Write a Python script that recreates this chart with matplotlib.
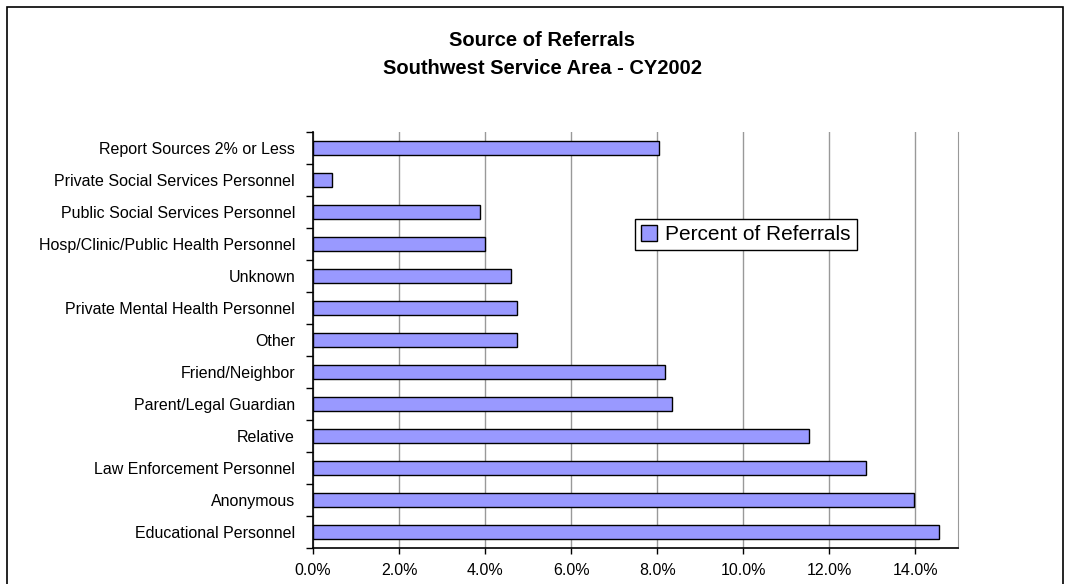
import matplotlib.pyplot as plt
from matplotlib.patches import Rectangle
from matplotlib.ticker import FixedLocator, FuncFormatter

# --- data (bottom to top) ---
sources = [
    'Educational Personnel',
    'Anonymous',
    'Law Enforcement Personnel',
    'Relative',
    'Parent/Legal Guardian',
    'Friend/Neighbor',
    'Other',
    'Private Mental Health Personnel',
    'Unknown',
    'Hosp/Clinic/Public Health Personnel',
    'Public Social Services Personnel',
    'Private Social Services Personnel',
    'Report Sources 2% or Less',
]
percent = [14.56, 13.97, 12.86, 11.52, 8.35, 8.18, 4.74, 4.74, 4.59, 3.99, 3.87, 0.43, 8.04]

plt.rcParams['font.family'] = ['Liberation Sans', 'DejaVu Sans']

fig = plt.figure(figsize=(10.67, 5.84), dpi=100)
ax = fig.add_axes([0.2935, 0.0616, 0.6045, 0.7124])

# outer chart border
fig.patches.append(Rectangle((7 / 1067, -0.05), 1056 / 1067, 1.05 - 7 / 584,
                             transform=fig.transFigure, fill=False,
                             edgecolor='black', linewidth=1.2))

ypos = list(range(len(sources)))
ax.barh(ypos, percent, height=0.42, color='#9999FF', edgecolor='black',
        linewidth=1.0, label='Percent of Referrals', zorder=3)

ax.set_xlim(0, 15)
ax.set_ylim(-0.5, len(sources) - 0.5)

# x axis
ax.xaxis.set_major_locator(FixedLocator([0, 2, 4, 6, 8, 10, 12, 14]))
ax.xaxis.set_major_formatter(FuncFormatter(lambda v, p: f'{v:.1f}%'))
ax.tick_params(axis='x', direction='out', length=4, width=1, color='black',
               labelsize=11.5, pad=7)
ax.grid(True, axis='x', color='#999999', linewidth=1, zorder=0)

# y axis: labels at centres, ticks at category boundaries
ax.set_yticks(ypos)
ax.set_yticklabels(sources)
ax.set_yticks([i - 0.5 for i in range(len(sources) + 1)], minor=True)
ax.tick_params(axis='y', which='major', length=0, labelsize=11.5, pad=13)
ax.tick_params(axis='y', which='minor', direction='out', length=5, width=1)

ax.spines['top'].set_visible(False)
ax.spines['right'].set_color('#999999')
ax.spines['left'].set_linewidth(1.2)
ax.spines['bottom'].set_linewidth(1.2)

leg = ax.legend(loc='upper left', bbox_to_anchor=(0.499, 0.791), fontsize=15,
                frameon=True, fancybox=False, framealpha=1, borderpad=0.3,
                borderaxespad=0, handlelength=0.75, handleheight=0.75,
                handletextpad=0.4)
leg.get_frame().set_edgecolor('black')
leg.get_frame().set_linewidth(1.0)

fig.text(0.508, 1 - 41 / 584, 'Source of Referrals', ha='center', va='center',
         fontsize=14.5, fontweight='bold')
fig.text(0.508, 1 - 69 / 584, 'Southwest Service Area - CY2002', ha='center',
         va='center', fontsize=14.5, fontweight='bold')

fig.savefig('out.png', dpi=100)
